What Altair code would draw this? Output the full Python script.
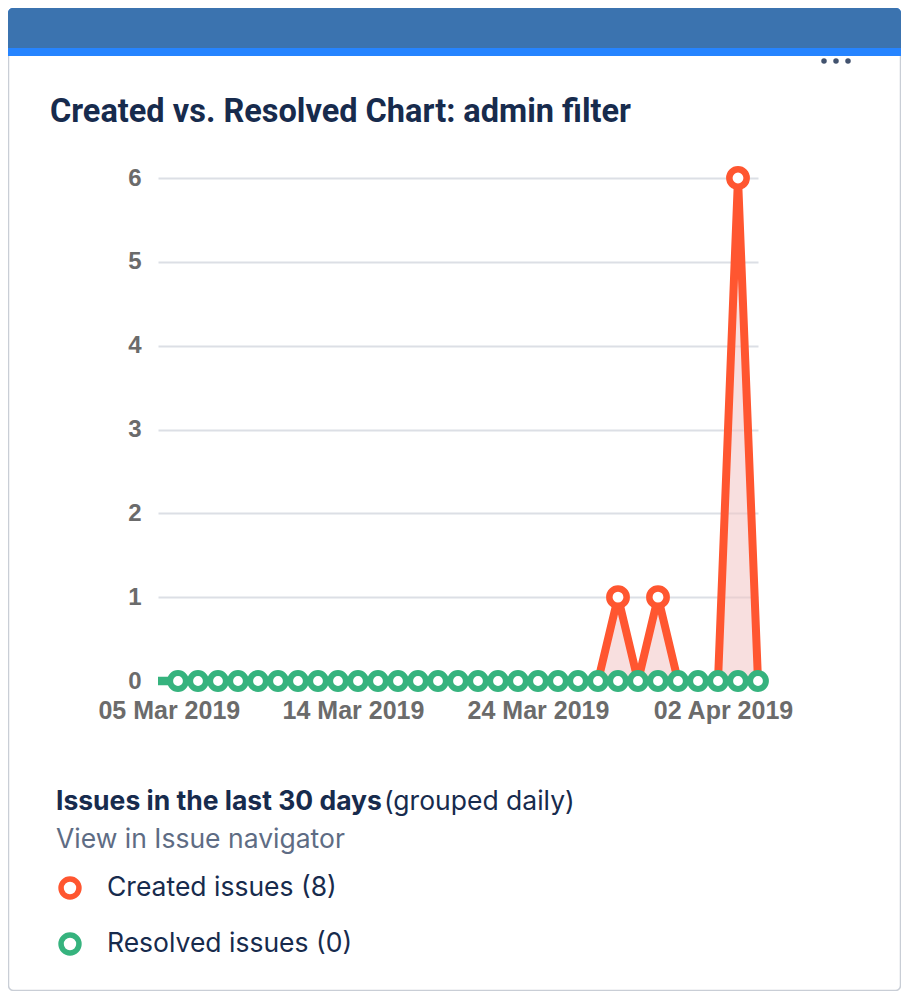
import altair as alt
import pandas as pd

# ---- data ----
dates = [
    "2019-03-05", "2019-03-06", "2019-03-07", "2019-03-08", "2019-03-09",
    "2019-03-10", "2019-03-11", "2019-03-12", "2019-03-13", "2019-03-14",
    "2019-03-15", "2019-03-16", "2019-03-17", "2019-03-18", "2019-03-19",
    "2019-03-20", "2019-03-21", "2019-03-22", "2019-03-23", "2019-03-24",
    "2019-03-25", "2019-03-26", "2019-03-27", "2019-03-28", "2019-03-29",
    "2019-03-30", "2019-03-31", "2019-04-01", "2019-04-02", "2019-04-03",
    "2019-04-04",
]
created = [0, 0, 0, 0, 0, 0, 0, 0, 0, 0,
           0, 0, 0, 0, 0, 0, 0, 0, 0, 0,
           0, 0, 0, 1, 0, 1, 0, 0, 0, 6,
           0]
resolved = [0, 0, 0, 0, 0, 0, 0, 0, 0, 0,
            0, 0, 0, 0, 0, 0, 0, 0, 0, 0,
            0, 0, 0, 0, 0, 0, 0, 0, 0, 0,
            0]

# x tick labels: (month, day, hour) where the labels sit
tick_labels = ["05 Mar 2019", "14 Mar 2019", "24 Mar 2019", "02 Apr 2019"]
tick_times = [(3, 5, 13), (3, 14, 18), (3, 24, 0), (4, 2, 6)]
y_ticks = [0, 0.5, 1, 1.5, 2, 2.5, 3, 3.5, 4, 4.5, 5, 5.5, 6]

title_text = "Created vs. Resolved Chart: admin filter"
summary_bold = "Issues in the last 30 days"
summary_rest = "(grouped daily)"
link_text = "View in Issue navigator"
legend_labels = ["Created issues (%d)" % sum(created), "Resolved issues (%d)" % sum(resolved)]

ORANGE = "#ff5630"
GREEN = "#36b37e"
NAVY = "#172b4d"

df = pd.DataFrame({
    "date": [d + "T00:00:00" for d in dates],
    "created": created,
    "resolved": resolved,
})

x_scale = alt.Scale(domain=[alt.DateTime(year=2019, month=3, date=5),
                            alt.DateTime(year=2019, month=4, date=4)])
y_scale = alt.Scale(domain=[0, 6], nice=False)

x_axis = alt.Axis(
    values=[alt.DateTime(year=2019, month=m, date=d, hours=h) for (m, d, h) in tick_times],
    format="%d %b %Y", title=None, grid=False, domain=False, ticks=False,
    labelFont="Liberation Sans", labelFontSize=25, labelFontWeight="bold",
    labelColor="#6b6b6b", labelPadding=17, labelFlush=False, labelOverlap=False,
)
y_axis = alt.Axis(
    values=y_ticks, format="d", labelExpr="datum.value % 1 == 0 ? datum.label : ''",
    title=None, domain=False, ticks=False, grid=True,
    gridColor="#dcdfe5", gridWidth=2,
    labelFont="Liberation Sans", labelFontSize=24, labelFontWeight="bold",
    labelColor="#6b6b6b", labelPadding=17,
)

one = alt.Data(values=[{}])

card = alt.Chart(one).mark_rect(fillOpacity=0, stroke="#c9ced6", strokeWidth=1.5, cornerRadius=5).encode(
    x=alt.value(-149.5), x2=alt.value(742.5), y=alt.value(-169.5), y2=alt.value(812.5))
stripe = alt.Chart(one).mark_rect(fill="#2684ff", cornerRadiusTopLeft=5, cornerRadiusTopRight=5).encode(
    x=alt.value(-150), x2=alt.value(743), y=alt.value(-170), y2=alt.value(-122))
header = alt.Chart(one).mark_rect(fill="#3b73af", cornerRadiusTopLeft=5, cornerRadiusTopRight=5).encode(
    x=alt.value(-150), x2=alt.value(743), y=alt.value(-170), y2=alt.value(-130))
dots = alt.Chart(alt.Data(values=[{"px": 666}, {"px": 678}, {"px": 690}])).mark_circle(
    color="#42526e", opacity=1, size=30).encode(
    x=alt.X("px:Q", scale=None), y=alt.value(-117))

title = alt.Chart(one).mark_text(text=title_text, align="left", baseline="alphabetic",
                                 font="Roboto", fontSize=32.5, fontWeight="bold", color=NAVY).encode(
    x=alt.value(-108), y=alt.value(-56))

marker_filter = "+toDate(datum.date) > +datetime(2019, 2, 5, 12)"

base = alt.Chart(df)
area = base.mark_area(color="#f2c4c4", opacity=0.55).encode(
    x=alt.X("date:T", scale=x_scale, axis=x_axis),
    y=alt.Y("created:Q", scale=y_scale, axis=y_axis))
o_line = base.mark_line(color=ORANGE, strokeWidth=8).encode(x="date:T", y="created:Q")
o_pts = base.transform_filter("datum.created > 0").mark_point(
    shape="circle", filled=True, fill="white", stroke=ORANGE, strokeWidth=6.5, size=300, opacity=1).encode(
    x="date:T", y="created:Q")
g_line = base.mark_line(color=GREEN, strokeWidth=8.5).encode(x="date:T", y="resolved:Q")
g_pts = base.transform_filter(marker_filter).mark_point(
    shape="circle", filled=True, fill="white", stroke=GREEN, strokeWidth=6, size=250, opacity=1).encode(
    x="date:T", y="resolved:Q")

FS = 26.5
sum_bold = alt.Chart(one).mark_text(text=summary_bold, align="left", baseline="middle",
                                    font="Inter", fontSize=FS, fontWeight="bold", color=NAVY).encode(
    x=alt.value(-102), y=alt.value(624))
sum_rest = alt.Chart(one).mark_text(text=summary_rest, align="left", baseline="middle",
                                    font="Inter", fontSize=FS, color=NAVY).encode(
    x=alt.value(226), y=alt.value(624))
link = alt.Chart(one).mark_text(text=link_text, align="left", baseline="middle",
                                font="Inter", fontSize=FS, color="#5e6c84").encode(
    x=alt.value(-102), y=alt.value(662))

leg_c1 = alt.Chart(one).mark_point(shape="circle", filled=True, fill="white", stroke=ORANGE,
                                   strokeWidth=5.5, size=320, opacity=1).encode(
    x=alt.value(-88), y=alt.value(710))
leg_c2 = alt.Chart(one).mark_point(shape="circle", filled=True, fill="white", stroke=GREEN,
                                   strokeWidth=5.5, size=320, opacity=1).encode(
    x=alt.value(-88), y=alt.value(766))
leg_t1 = alt.Chart(one).mark_text(text=legend_labels[0], align="left", baseline="middle",
                                  font="Inter", fontSize=FS, color=NAVY).encode(
    x=alt.value(-51), y=alt.value(710))
leg_t2 = alt.Chart(one).mark_text(text=legend_labels[1], align="left", baseline="middle",
                                  font="Inter", fontSize=FS, color=NAVY).encode(
    x=alt.value(-51), y=alt.value(766))

chart = alt.layer(
    card, stripe, header, dots, title,
    area, o_line, o_pts, g_line, g_pts,
    sum_bold, sum_rest, link, leg_c1, leg_c2, leg_t1, leg_t2,
).properties(
    width=600, height=503,
    padding={"left": 150, "top": 170, "right": 143, "bottom": 310},
    autosize="none", background="white",
).configure_view(stroke=None)

chart.save("out.html", embed_options={"renderer": "svg", "actions": False})
